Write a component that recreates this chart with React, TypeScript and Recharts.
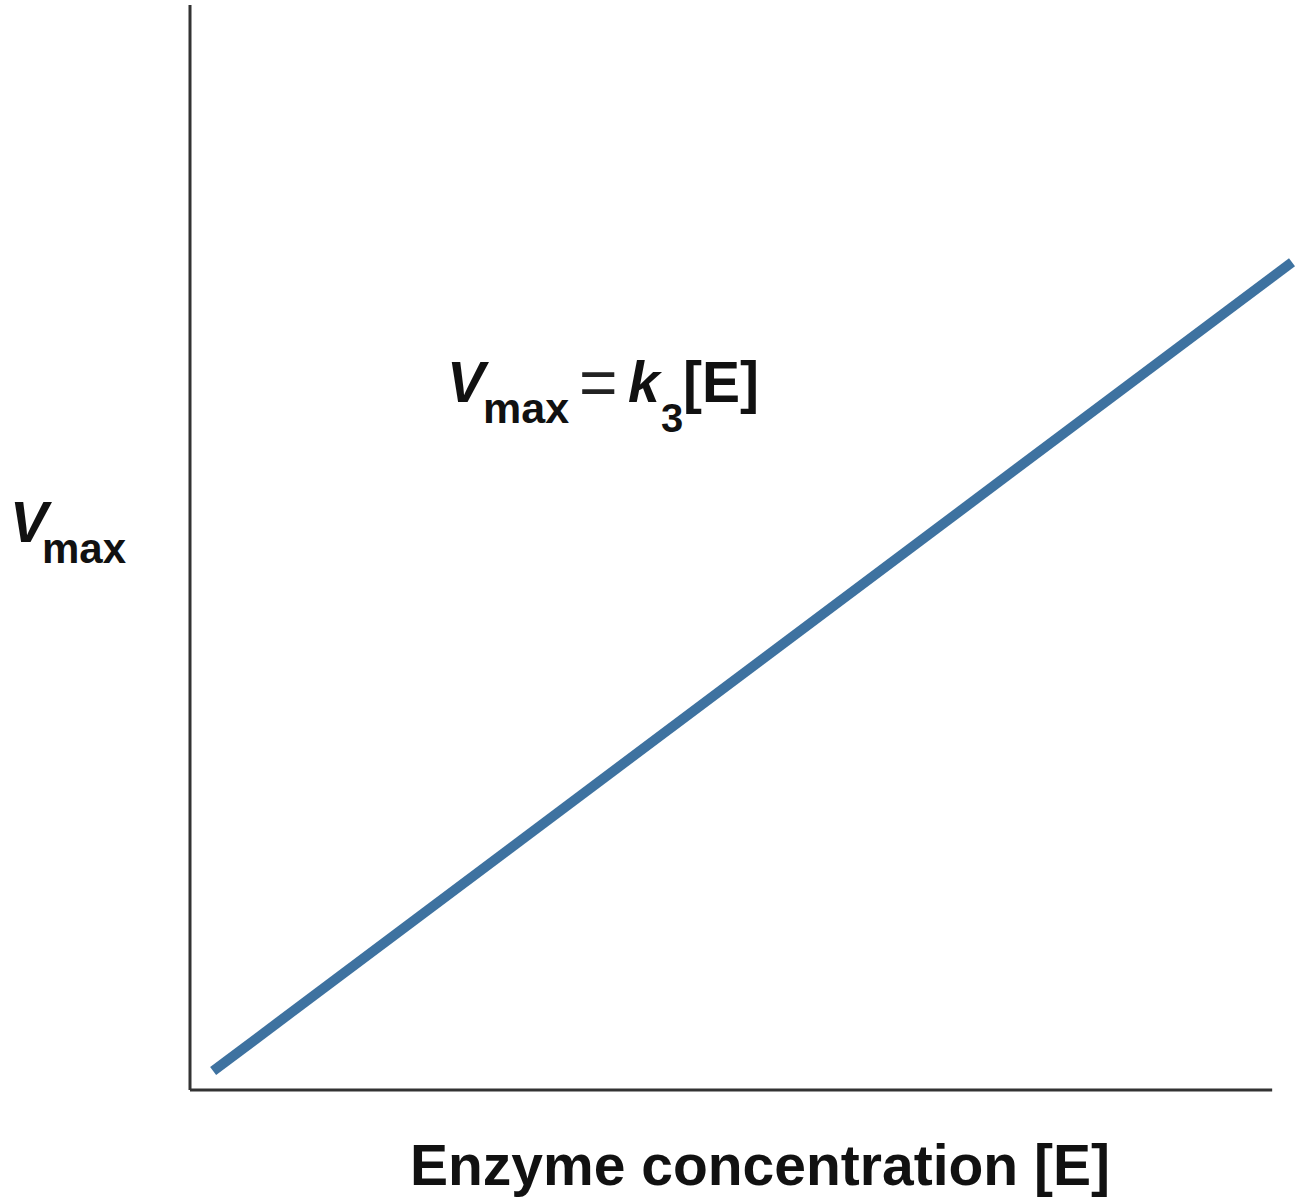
import { LineChart, Line, XAxis, YAxis, ReferenceLine, Customized } from 'recharts';

// enzyme concentration [E] (arbitrary units, 0-100) and Vmax
const enzymeConc = [2.1, 100];
const vmaxValues = [1.75, 76.3];
const axisEndX = 98.2;

const data = enzymeConc.map((e, i) => ({ e, v: vmaxValues[i] }));

const FONT = '"Liberation Sans", Arial, Helvetica, sans-serif';
const INK = '#111';

function Annotations() {
    return (
        <g fontFamily={FONT} fontWeight="bold" fill={INK}>
            {/* y axis label */}
            <text x={10} y={542} fontSize={57} fontStyle="italic">V</text>
            <text x={42} y={563} fontSize={42}>max</text>

            {/* equation */}
            <text x={447} y={402} fontSize={57} fontStyle="italic">V</text>
            <text x={483} y={423} fontSize={43}>max</text>
            <text x={579} y={405} fontSize={66} fontWeight="normal" fill="#222">=</text>
            <text x={628} y={402} fontSize={57} fontStyle="italic">k</text>
            <text x={661} y={432} fontSize={40}>3</text>
            <text x={683} y={402} fontSize={57}>[E]</text>

            {/* x axis label */}
            <text x={760} y={1185} fontSize={57} textAnchor="middle">Enzyme concentration [E]</text>
        </g>
    );
}

export default function App() {
    return (
        <div style={{ position: 'absolute', left: 0, top: 0, background: '#fff' }}>
            <LineChart
                width={1300}
                height={1200}
                data={data}
                margin={{ top: 5, right: 8, bottom: 110, left: 190 }}
            >
                <XAxis type="number" dataKey="e" domain={[0, 100]} hide />
                <YAxis type="number" domain={[0, 100]} hide />
                <ReferenceLine
                    segment={[{ x: 0, y: 0 }, { x: 0, y: 100 }]}
                    stroke="#333"
                    strokeWidth={3}
                />
                <ReferenceLine
                    segment={[{ x: 0, y: 0 }, { x: axisEndX, y: 0 }]}
                    stroke="#333"
                    strokeWidth={3}
                />
                <Line
                    type="linear"
                    dataKey="v"
                    stroke="#3e72a0"
                    strokeWidth={10}
                    dot={false}
                    activeDot={false}
                    isAnimationActive={false}
                />
                <Customized component={Annotations} />
            </LineChart>
        </div>
    );
}
